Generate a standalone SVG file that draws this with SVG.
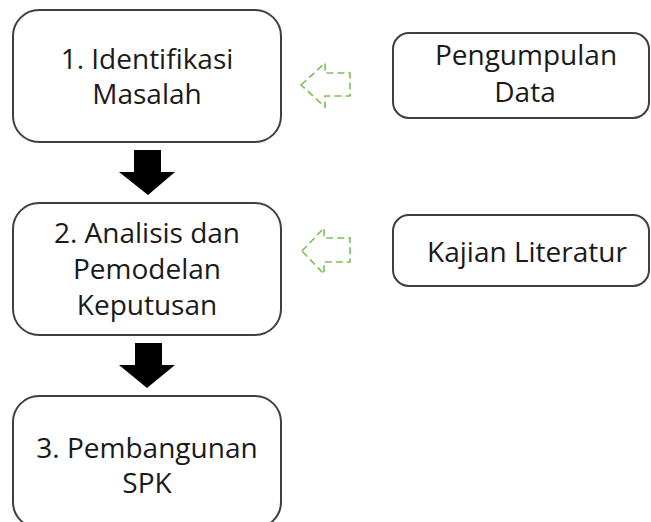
<svg xmlns="http://www.w3.org/2000/svg" width="651" height="522" viewBox="0 0 651 522">
  <style>
    .box { fill: #ffffff; stroke: #3f3f3f; stroke-width: 2; }
    .lbl { font-family: "Open Sans", "Noto Sans", sans-serif; font-size: 28px; fill: #1a1a1a; text-anchor: middle; }
    .step { fill: #000000; stroke: none; }
    .hint { fill: none; stroke: #7dbf5a; stroke-width: 1.6; stroke-dasharray: 7 4; }
  </style>
  <rect width="651" height="522" fill="#ffffff"/>

  <g id="node-identifikasi">
    <rect class="box" x="13" y="10" width="268" height="132" rx="26"/>
    <text class="lbl" x="147" y="69">1. Identifikasi</text>
    <text class="lbl" x="147" y="104">Masalah</text>
  </g>

  <g id="node-analisis">
    <rect class="box" x="13" y="203" width="268" height="132" rx="26"/>
    <text class="lbl" x="147" y="243">2. Analisis dan</text>
    <text class="lbl" x="147" y="279">Pemodelan</text>
    <text class="lbl" x="147" y="315">Keputusan</text>
  </g>

  <g id="node-pembangunan">
    <rect class="box" x="13" y="396" width="268" height="132" rx="26"/>
    <text class="lbl" x="147" y="458">3. Pembangunan</text>
    <text class="lbl" x="147" y="493">SPK</text>
  </g>

  <g id="node-pengumpulan">
    <rect class="box" x="393" y="33" width="256" height="85" rx="16"/>
    <text class="lbl" x="526" y="65">Pengumpulan</text>
    <text class="lbl" x="525" y="102">Data</text>
  </g>

  <g id="node-kajian">
    <rect class="box" x="393" y="215" width="256" height="71" rx="16"/>
    <text class="lbl" x="527" y="262">Kajian Literatur</text>
  </g>

  <g id="connectors">
    <!-- block arrows between the main steps -->
    <polygon class="step" points="134,150 161,150 161,172 175,172 148,195 119,172 134,172"/>
    <polygon class="step" points="135,343 162,343 162,365 175,365 147,388 119,365 135,365"/>
    <!-- dashed hint arrows from the side inputs -->
    <polygon class="hint" points="301,85 325,63 325,73 350,73 350,96 325,96 325,107"/>
    <polygon class="hint" points="302,251 324,228 324,238 350,238 350,262 324,262 324,274"/>
  </g>
</svg>
